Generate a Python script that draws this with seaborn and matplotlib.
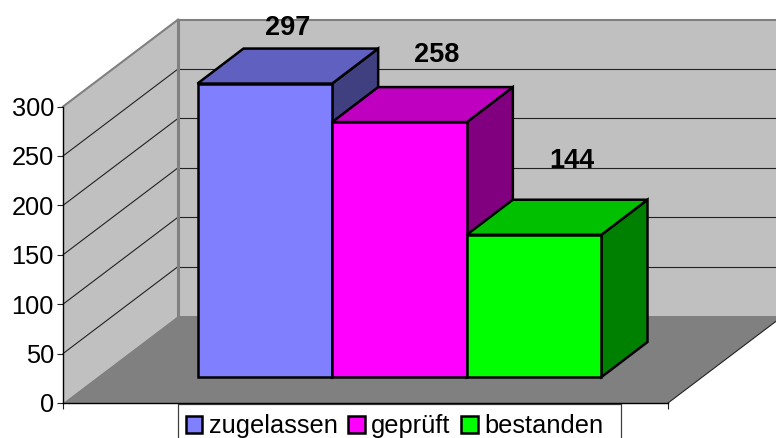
import matplotlib
matplotlib.use("Agg")
import matplotlib.pyplot as plt
from matplotlib.patches import Patch, Polygon
import seaborn as sns

sns.set_theme(style="white")
plt.rcParams['font.family'] = ['Liberation Sans', 'DejaVu Sans']

categories = ['zugelassen', 'geprüft', 'bestanden']
values = [297, 258, 144]
front_colors = ['#8080ff', '#ff00ff', '#00ff00']
top_colors = ['#6060c0', '#c000c0', '#00c000']
side_colors = ['#404080', '#800080', '#008000']
y_ticks = [0, 50, 100, 150, 200, 250, 300]

W, H = 776, 438
PX_PER_UNIT = 0.988
FS = 18.3
BAR_LW = 1.8

fig = plt.figure(figsize=(W / 100, H / 100), dpi=100)

# walls and floor, in pixel coordinates
wall_ax = fig.add_axes([0, 0, 1, 1], zorder=0)
wall_ax.set_xlim(0, W)
wall_ax.set_ylim(H, 0)
wall_ax.axis('off')

fx0, fx1, fy = 63, 668, 403
depth_x, depth_y = 115, 87
wall_h = 300 * PX_PER_UNIT
bx0, bx1, by = fx0 + depth_x, fx1 + depth_x, fy - depth_y

wall_ax.add_patch(Polygon([(fx0, fy), (bx0, by), (bx0, by - wall_h), (fx0, fy - wall_h)],
                          fc='#c0c0c0', ec='none'))
wall_ax.add_patch(Polygon([(bx0, by), (bx1, by), (bx1, by - wall_h), (bx0, by - wall_h)],
                          fc='#c0c0c0', ec='none'))
wall_ax.add_patch(Polygon([(fx0, fy), (fx1, fy), (bx1, by), (bx0, by)],
                          fc='#808080', ec='none'))

for v in y_ticks[1:-1]:
    d = v * PX_PER_UNIT
    wall_ax.plot([fx0, bx0], [fy - d, by - d], color='#222222', lw=0.8)
    wall_ax.plot([bx0, bx1], [by - d, by - d], color='#222222', lw=0.8)

edge = dict(color='#808080', solid_capstyle='projecting')
wall_ax.plot([fx0, bx0], [fy - wall_h, by - wall_h], lw=1.5, **edge)
wall_ax.plot([bx0, bx1], [by - wall_h, by - wall_h], lw=1.5, **edge)
wall_ax.plot([bx0, bx0], [by - wall_h, by], lw=2.2, **edge)
wall_ax.plot([fx1, bx1], [fy, by], color='#222222', lw=0.8)

# legend box runs off the bottom of the picture
wall_ax.plot([178, 178, 621, 621], [H + 5, 404, 404, H + 5], color='#404040', lw=0.9)

# bars, on a data scale lined up with the floor
ax = fig.add_axes([0, 0, 1, 1], zorder=1)
sns.barplot(x=categories, y=values, hue=categories, palette=front_colors,
            width=1, saturation=1, dodge=False, legend=False,
            edgecolor='black', linewidth=BAR_LW, ax=ax)
px_per_cat = (601.5 - 197.5) / 3
left = -0.5 - 197.5 / px_per_cat
base_px = 377
ax.set_xlim(left, left + W / px_per_cat)
ax.set_ylim(-(H - base_px) / PX_PER_UNIT, base_px / PX_PER_UNIT)
ax.axis('off')

bar_dx = 46 / px_per_cat
bar_dy = 35 / PX_PER_UNIT
for i, bar in enumerate(ax.patches):
    x0, x1 = bar.get_x(), bar.get_x() + bar.get_width()
    h = bar.get_height()
    bar.set_zorder(3 + 3 * i)
    bar.set_joinstyle('miter')
    ax.add_patch(Polygon([(x1, 0), (x1 + bar_dx, bar_dy), (x1 + bar_dx, h + bar_dy), (x1, h)],
                         fc=side_colors[i], ec='black', lw=BAR_LW, zorder=1 + 3 * i))
    ax.add_patch(Polygon([(x0, h), (x0 + bar_dx, h + bar_dy), (x1 + bar_dx, h + bar_dy), (x1, h)],
                         fc=top_colors[i], ec='black', lw=BAR_LW, zorder=2 + 3 * i))

label_offsets = [(23, 56), (37.5, 67), (38, 74)]
for i, v in enumerate(values):
    ax.annotate(str(v), xy=(i, v), xytext=label_offsets[i], textcoords='offset pixels',
                ha='center', va='center', fontsize=19.5, fontweight='bold',
                color='black', zorder=20)

# value axis on the front edge of the left wall
axis_ax = fig.add_axes([fx0 / W, (H - fy) / H, (fx1 - fx0) / W, wall_h / H], zorder=2)
axis_ax.patch.set_alpha(0)
axis_ax.set_ylim(0, 300)
axis_ax.set_xlim(0, 1)
axis_ax.set_yticks(y_ticks)
axis_ax.set_xticks([0, 1])
axis_ax.set_xticklabels([])
sns.despine(ax=axis_ax)
for s in ['left', 'bottom']:
    axis_ax.spines[s].set_color('black')
    axis_ax.spines[s].set_linewidth(1.0)
axis_ax.tick_params(axis='both', direction='out', length=4, width=0.8, color='#222222',
                    left=True, bottom=True, pad=2.5, labelsize=FS, labelcolor='black')

handles = [Patch(fc=c, ec='black', lw=BAR_LW) for c in front_colors]
fig.legend(handles, categories, loc='upper left', bbox_to_anchor=(185.5 / W, 1 - 414 / H),
           ncol=3, fontsize=FS, frameon=False, borderaxespad=0, borderpad=0,
           handlelength=0.66, handleheight=0.66, handletextpad=0.25, columnspacing=0.42,
           labelcolor='black')

fig.savefig('out.png', dpi=100)
